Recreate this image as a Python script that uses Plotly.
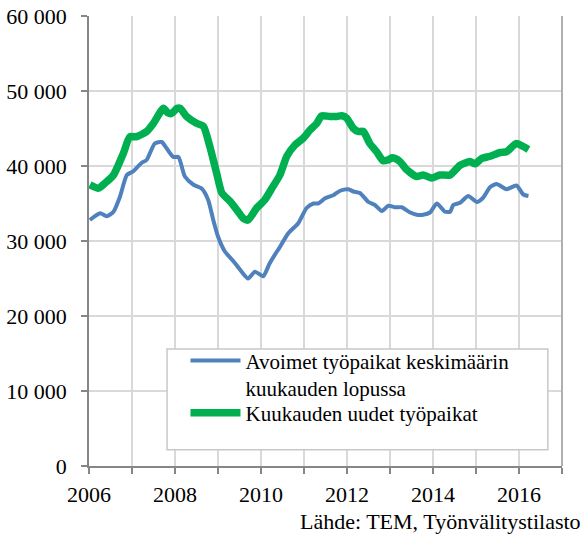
import plotly.graph_objects as go

# Avoimet työpaikat keskimäärin kuukauden lopussa (blue)
blue_x = [2006.02, 2006.26, 2006.41, 2006.57, 2006.72, 2006.88, 2007.03, 2007.22, 2007.34,
          2007.53, 2007.69, 2007.8, 2007.96, 2008.08, 2008.23, 2008.43, 2008.62, 2008.77,
          2008.89, 2009.0, 2009.16, 2009.36, 2009.55, 2009.7, 2009.86, 2010.05, 2010.2,
          2010.37, 2010.44, 2010.63, 2010.87, 2011.06, 2011.22, 2011.33, 2011.49, 2011.68,
          2011.84, 2012.03, 2012.15, 2012.3, 2012.5, 2012.65, 2012.81, 2012.96, 2013.12,
          2013.27, 2013.47, 2013.62, 2013.77, 2013.93, 2014.09, 2014.28, 2014.4, 2014.47,
          2014.63, 2014.82, 2015.02, 2015.17, 2015.33, 2015.48, 2015.71, 2015.94, 2016.1,
          2016.22]
blue_y = [32800, 33700, 33300, 33900, 35900, 38800, 39300, 40400, 40800,
          43000, 43200, 42400, 41200, 41200, 38600, 37500, 37000, 35500,
          32800, 30600, 28600, 27300, 25900, 25000, 25900, 25300, 27000,
          28600, 29200, 31000, 32400, 34400, 35000, 35000, 35700, 36100,
          36700, 36900, 36600, 36400, 35200, 34800, 34000, 34700, 34500,
          34500, 33800, 33500, 33500, 33800, 35000, 33900, 33900, 34800,
          35100, 36000, 35200, 35800, 37200, 37600, 36900, 37400, 36200,
          36000]

# Kuukauden uudet työpaikat (green)
green_x = [2006.02, 2006.22, 2006.37, 2006.57, 2006.8, 2006.95, 2007.1, 2007.34, 2007.5,
           2007.73, 2007.83, 2007.92, 2008.05, 2008.12, 2008.27, 2008.5, 2008.66, 2008.81,
           2008.97, 2009.09, 2009.28, 2009.47, 2009.59, 2009.7, 2009.9, 2010.09, 2010.25,
           2010.44, 2010.6, 2010.79, 2010.98, 2011.14, 2011.3, 2011.41, 2011.6, 2011.76,
           2011.88, 2011.99, 2012.15, 2012.26, 2012.38, 2012.53, 2012.69, 2012.84, 2012.95,
           2013.05, 2013.12, 2013.23, 2013.39, 2013.62, 2013.77, 2013.97, 2014.16, 2014.4,
           2014.63, 2014.86, 2014.98, 2015.13, 2015.33, 2015.56, 2015.71, 2015.94, 2016.1,
           2016.22]
green_y = [37500, 37050, 37700, 38800, 41700, 43900, 43900, 44600, 45700,
           47700, 47100, 47000, 47700, 47700, 46600, 45700, 45300, 42600,
           39000, 36400, 35300, 33900, 33000, 32800, 34400, 35500, 37000,
           38800, 41300, 42800, 43700, 44800, 45700, 46700, 46600, 46600,
           46700, 46400, 45000, 44600, 44600, 43000, 41900, 40700, 40800,
           41100, 41000, 40600, 39500, 38600, 38800, 38400, 38800, 38800,
           40100, 40600, 40300, 41000, 41300, 41800, 41900, 43000, 42600,
           42200]

series_names = ["Avoimet työpaikat keskimäärin<br>kuukauden lopussa",
                "Kuukauden uudet työpaikat"]
year_ticks = list(range(2006, 2018))
year_labels = [str(y) if y % 2 == 0 else "" for y in year_ticks]
source_text = "Lähde: TEM, Työnvälitystilasto"

FONT = "Liberation Serif, Times New Roman, serif"

fig = go.Figure()
fig.add_trace(go.Scatter(x=blue_x, y=blue_y, mode="lines", name=series_names[0],
                         legend="legend",
                         line=dict(color="#4f81bd", width=4, shape="spline", smoothing=0.6)))
fig.add_trace(go.Scatter(x=green_x, y=green_y, mode="lines", name=series_names[1],
                         legend="legend2",
                         line=dict(color="#00b050", width=7.5, shape="spline", smoothing=0.6)))

legend_common = dict(xanchor="left", yanchor="top", bgcolor="rgba(0,0,0,0)", borderwidth=0,
                     font=dict(family=FONT, size=21, color="black"),
                     itemwidth=50, valign="top")

fig.update_layout(
    width=583, height=541,
    margin=dict(l=89, r=21, t=16, b=75),
    paper_bgcolor="white", plot_bgcolor="white",
    separators=", ",
    font=dict(family=FONT, size=22, color="black"),
    showlegend=True,
    legend=dict(x=0.204, y=0.279, **legend_common),
    legend2=dict(x=0.204, y=0.163, **legend_common),
    shapes=[
        dict(type="rect", xref="paper", yref="paper", x0=0.165, x1=0.970, y0=0.036, y1=0.26,
             fillcolor="white", line=dict(color="#c8c8c8", width=1.5), layer="above"),
        dict(type="line", xref="paper", yref="paper", x0=1, x1=1, y0=0, y1=1,
             line=dict(color="#b0b0b0", width=2), layer="above"),
    ],
    annotations=[
        dict(text=source_text, xref="paper", yref="paper", x=1.0444, y=-0.1235,
             xanchor="right", yanchor="middle", showarrow=False,
             font=dict(family=FONT, size=22, color="black")),
    ],
)

fig.update_xaxes(range=[2006, 2017], tickvals=year_ticks, ticktext=year_labels,
                 showgrid=True, gridcolor="#d9d9d9", gridwidth=1.5,
                 showline=True, linecolor="#868686", linewidth=1.5,
                 ticks="outside", ticklen=6, tickcolor="#868686", tickwidth=1.5,
                 ticklabelstandoff=2,
                 zeroline=False, fixedrange=True, automargin=False)
fig.update_yaxes(range=[0, 60000], dtick=10000, tickformat=",d",
                 showgrid=True, gridcolor="#d9d9d9", gridwidth=1.5,
                 showline=True, linecolor="#868686", linewidth=1.5,
                 ticks="outside", ticklen=6, tickcolor="#868686", tickwidth=1.5,
                 ticklabelstandoff=10, zeroline=False, fixedrange=True, automargin=False)

fig.write_html("out.html",
               config={"displayModeBar": False},
               post_script="document.documentElement.style.margin='0';"
                           "document.body.style.margin='0';"
                           "document.body.style.padding='0';"
                           "document.body.style.overflow='hidden';")
